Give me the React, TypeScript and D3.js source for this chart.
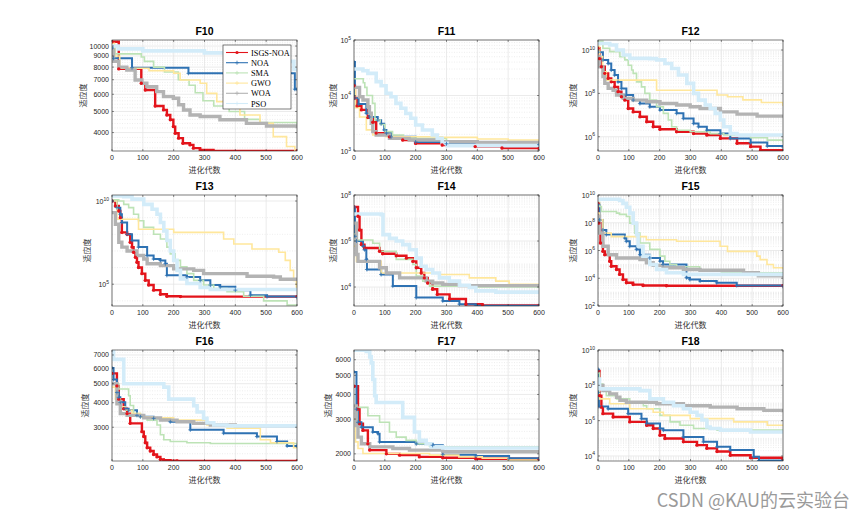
import React from 'react';
import * as d3 from 'd3';

type P = [number, number];

// ---------- labels ----------
const TITLES = ['F10', 'F11', 'F12', 'F13', 'F14', 'F15', 'F16', 'F17', 'F18'];
const SERIES_NAMES = ['ISGS-NOA', 'NOA', 'SMA', 'GWO', 'WOA', 'PSO'];
const X_LABEL = '进化代数';
const Y_LABEL = '适应度';
const X_TICKS = [0, 100, 200, 300, 400, 500, 600];
const WATERMARK = 'CSDN @KAU的云实验台';

const Y_DOMAINS: [number, number][] = [
  [3290, 10660], [1e3, 1e5], [2.2e5, 2.9e10],
  [4.9e3, 2.3e10], [1.5e3, 1e8], [1e2, 1e10],
  [2020, 7420], [1840, 6720], [5.2e3, 1e10],
];
const Y_TICKS: number[][] = [
  [4000, 5000, 6000, 7000, 8000, 9000, 10000],
  [1e3, 1e4, 1e5],
  [1e6, 1e8, 1e10],
  [1e5, 1e10],
  [1e4, 1e6, 1e8],
  [1e2, 1e4, 1e6, 1e8, 1e10],
  [3000, 4000, 5000, 6000, 7000],
  [2000, 3000, 4000, 5000, 6000],
  [1e4, 1e6, 1e8, 1e10],
];
const Y_POWER = [false, true, true, true, true, true, false, false, true];

// ---------- F10 ----------
const F10_ISGS: P[] = [[0,10470],[22,7850],[95,6740],[108,6280],[140,5300],[167,5085],[178,4820],[189,4580],[199,4260],[205,3970],[216,3770],[230,3570],[253,3510],[264,3390],[286,3330],[329,3290],[600,3290]];
const F10_NOA: P[] = [[0,9800],[5,8780],[65,7950],[248,7490],[593,6330],[600,6330]];
const F10_SMA: P[] = [[0,10000],[10,9200],[95,8900],[105,8500],[135,8000],[170,7600],[215,7000],[250,6600],[270,6100],[295,5600],[330,5300],[380,5000],[430,4600],[480,4450],[600,4340]];
const F10_GWO: P[] = [[0,10300],[8,9000],[25,7900],[120,7700],[200,7500],[221,6980],[286,6740],[307,6060],[340,5550],[372,5170],[415,4820],[480,4410],[523,3830],[566,3450],[593,3300],[600,3290]];
const F10_WOA: P[] = [[0,9600],[5,8500],[22,8000],[48,7760],[75,6980],[97,6740],[113,6500],[145,6170],[167,5850],[199,5750],[216,5370],[232,5080],[253,4820],[286,4740],[350,4580],[436,4410],[501,4290],[600,4190]];
const F10_PSO: P[] = [[0,10000],[20,9700],[100,9500],[300,9300],[400,9000],[500,8500],[590,7800],[600,7800]];

// ---------- F11 ----------
const F11_ISGS: P[] = [[0,15000],[3,9000],[10,6500],[24,5500],[45,4000],[61,3300],[72,2100],[115,1800],[158,1580],[200,1370],[286,1280],[393,1200],[480,1130],[600,1110]];
const F11_NOA: P[] = [[0,40000],[3,9000],[15,7000],[40,4800],[50,4100],[77,3600],[88,3100],[98,2400],[105,2100],[120,1800],[200,1450],[300,1350],[600,1300]];
const F11_SMA: P[] = [[0,20000],[30,17000],[35,14000],[42,10000],[60,7200],[68,3600],[85,3000],[100,2230],[125,1940],[160,1800],[180,1690],[300,1450],[600,1380]];
const F11_GWO: P[] = [[0,14000],[5,6000],[18,4100],[40,2400],[61,1940],[104,1810],[286,1760],[400,1650],[500,1580],[600,1520]];
const F11_WOA: P[] = [[0,14000],[18,9500],[29,8300],[45,6300],[50,4800],[56,3150],[61,2230],[72,1940],[115,1690],[179,1580],[286,1470],[400,1430],[600,1400]];
const F11_PSO: P[] = [[0,30000],[29,28000],[45,25000],[72,17800],[88,15000],[104,11000],[120,9500],[136,7200],[152,5900],[168,4750],[184,3880],[200,2940],[222,2390],[254,1940],[270,1700],[286,1370],[302,1250],[600,1240]];

// ---------- F12 ----------
const F12_ISGS: P[] = [[0,1.2e10],[5,4e9],[11,1.7e9],[22,8.4e8],[33,4.9e8],[43,3.4e8],[54,2e8],[65,1.2e8],[76,7e7],[87,4.9e7],[98,2e7],[114,1.4e7],[136,8.4e6],[158,4.9e6],[179,2.9e6],[201,2.2e6],[255,1.7e6],[310,1.4e6],[353,1.2e6],[397,8.4e5],[451,5e5],[495,3.5e5],[527,2.4e5],[600,2.3e5]];
const F12_NOA: P[] = [[0,8e9],[16,3.5e9],[33,2.4e9],[43,1.2e9],[54,7e8],[65,3.4e8],[76,1.7e8],[92,8.4e7],[114,4.9e7],[136,3.4e7],[168,2.4e7],[201,1.7e7],[255,1.2e7],[277,7e6],[310,4.1e6],[326,2.9e6],[353,2e6],[397,1.4e6],[429,8.4e5],[495,5.4e5],[549,3.7e5],[600,3.4e5]];
const F12_SMA: P[] = [[0,2.5e10],[16,1.2e10],[38,8.4e9],[71,4.9e9],[87,3.5e9],[98,2e9],[109,1.2e9],[114,8.4e8],[125,3.4e8],[141,2e8],[152,1e8],[168,4.9e7],[190,2.4e7],[212,1.2e7],[228,5.9e6],[239,2.9e6],[255,2e6],[299,1.7e6],[364,1.4e6],[408,1.2e6],[495,9e5],[549,7e5],[600,5.4e5]];
const F12_GWO: P[] = [[0,1.5e10],[5,5e9],[15,1e9],[27,4.1e8],[190,1.4e8],[386,8.4e7],[420,7e7],[470,5e7],[530,3.8e7],[600,2.6e7]];
const F12_WOA: P[] = [[0,5e9],[5,1.7e9],[16,5.9e8],[22,2.9e8],[33,1.7e8],[49,1.4e8],[60,8.4e7],[82,5.9e7],[114,4.9e7],[158,4.1e7],[201,3.4e7],[255,2.9e7],[299,2.4e7],[331,2e7],[397,1.4e7],[451,1.1e7],[516,8.9e6],[600,8.4e6]];
const F12_PSO: P[] = [[0,2e10],[38,1.7e10],[60,1e10],[82,5.9e9],[103,4.1e9],[168,4e9],[190,3.5e9],[217,2.4e9],[239,1.4e9],[261,7e8],[288,2.9e8],[310,1e8],[326,4.9e7],[348,2.9e7],[364,2e7],[380,1.2e7],[397,5.9e6],[408,2.9e6],[429,1.4e6],[451,1.2e6],[600,1.2e6]];

// ---------- F13 ----------
const F13_ISGS: P[] = [[0,1e10],[11,5e9],[22,2.5e9],[27,1e9],[32,1.3e8],[49,1e8],[59,3.3e7],[65,1.7e7],[70,8.4e6],[76,4.2e6],[81,2.1e6],[86,1e6],[97,4.3e5],[108,1.7e5],[119,8.9e4],[135,4.4e4],[157,2.5e4],[178,1.9e4],[222,1.8e4],[600,1.8e4]];
const F13_NOA: P[] = [[0,1e10],[16,4e9],[27,1.6e9],[32,5.1e8],[49,1e8],[65,4.2e7],[86,1.7e7],[114,5.3e6],[135,3.3e6],[157,2.7e6],[173,1.7e6],[178,3.4e5],[243,2.7e5],[286,1.7e5],[319,8.9e4],[351,7e4],[400,4.4e4],[449,2.2e4],[503,1.8e4],[600,1.6e4]];
const F13_SMA: P[] = [[0,1.2e10],[22,1e10],[38,6.3e9],[54,4e9],[70,1.6e9],[86,6.5e8],[103,2.6e8],[135,1e8],[157,5.2e7],[178,1.7e7],[189,6.7e6],[205,2.7e6],[222,1.1e6],[243,4.3e5],[265,1.7e5],[297,8.9e4],[330,5.5e4],[373,3.5e4],[427,1.9e4],[492,1e4],[568,5.6e3],[600,5e3]];
const F13_GWO: P[] = [[0,1e10],[16,8e8],[86,2e8],[200,1.3e8],[362,5.2e7],[395,2.6e7],[454,1.3e7],[541,8.4e6],[562,2.7e6],[578,6.8e5],[589,1.7e5],[598,4.4e4],[600,4.4e4]];
const F13_WOA: P[] = [[0,2e9],[11,4e8],[22,3.3e7],[32,1.7e7],[49,1e7],[81,5.3e6],[103,3.3e6],[114,1.7e6],[157,1.3e6],[200,8.4e5],[265,6.8e5],[297,4.3e5],[438,3e5],[524,2.7e5],[546,2e5],[600,1.8e5]];
const F13_PSO: P[] = [[0,2e10],[38,1.8e10],[65,1.3e10],[103,6.3e9],[130,3.2e9],[146,1.6e9],[157,5.1e8],[168,1.6e8],[178,4.2e7],[189,1e7],[200,2.7e6],[211,6.8e5],[222,2.1e5],[243,1.1e5],[286,6.4e4],[319,4.8e4],[600,4.8e4]];

// ---------- F14 ----------
const F14_ISGS: P[] = [[0,3e7],[13,1.2e7],[18,3e6],[24,7e5],[34,5e5],[83,3.6e5],[93,2.8e5],[137,2.3e5],[170,1.8e5],[191,1.3e5],[202,6.9e4],[218,4.1e4],[228,2.5e4],[239,1.5e4],[255,8e3],[270,4.8e3],[310,3e3],[363,1.8e3],[417,1.6e3],[600,1.6e3]];
const F14_NOA: P[] = [[0,3e7],[3,1.6e6],[8,1e6],[29,6e5],[34,4.2e5],[40,1.6e5],[42,5.8e4],[88,3.5e4],[126,1.1e4],[202,3.5e3],[288,2.5e3],[342,1.8e3],[395,1.55e3],[600,1.55e3]];
const F14_SMA: P[] = [[0,2e6],[5,1.1e6],[61,8e5],[83,3.6e5],[137,1.6e5],[191,9.6e4],[202,3e4],[223,1.8e4],[245,1.1e4],[400,1e4],[600,9.5e3]];
const F14_GWO: P[] = [[0,6e5],[8,1.3e5],[88,4.1e4],[277,3.5e4],[374,2.5e4],[460,1.8e4],[503,1.3e4],[600,1.3e4]];
const F14_WOA: P[] = [[0,6e6],[8,2.6e5],[13,1.3e5],[83,6.9e4],[105,4.1e4],[148,2.5e4],[234,1.8e4],[255,1.5e4],[288,1.3e4],[342,1.15e4],[600,1.1e4]];
const F14_PSO: P[] = [[0,1.5e7],[88,1.4e7],[94,1.9e6],[115,1.3e6],[137,1e6],[158,7e5],[180,4.2e5],[202,1.8e5],[218,8e4],[234,5.8e4],[255,4.1e4],[277,2.5e4],[309,1.8e4],[342,1.2e4],[374,9.6e3],[395,6.8e3],[460,6e3],[600,5.8e3]];

// ---------- F15 ----------
const F15_ISGS: P[] = [[0,2.5e9],[3,9.4e7],[8,3.5e6],[16,8.7e5],[22,5e5],[38,1.7e5],[43,7.4e4],[60,4.3e4],[70,1.9e4],[81,8e3],[92,4.7e3],[114,3.5e3],[146,3e3],[222,2.9e3],[600,2.9e3]];
const F15_NOA: P[] = [[0,2e9],[5,1.6e8],[16,3e7],[27,1.4e7],[87,7.9e6],[92,4.6e6],[103,2e6],[125,1.2e6],[136,5e5],[168,2.9e5],[201,1.7e5],[211,9.9e4],[287,1.1e4],[298,8e3],[331,6.3e3],[385,4.7e3],[450,3e3],[600,2.6e3]];
const F15_SMA: P[] = [[0,3e9],[5,1.5e9],[11,6.4e8],[60,4.9e8],[70,4e8],[92,2.8e8],[103,9.4e7],[119,1.8e7],[136,3.5e6],[168,1.2e6],[201,3.9e5],[217,1.7e5],[233,9.9e4],[255,6.8e4],[330,4e4],[400,2.5e4],[600,1.5e4]];
const F15_GWO: P[] = [[0,5e8],[5,1.6e8],[16,1.8e7],[43,1e7],[157,6e6],[255,4.6e6],[396,2e6],[420,8.7e5],[515,3.9e5],[526,2.2e5],[548,9.9e4],[569,5.7e4],[600,4.5e4]];
const F15_WOA: P[] = [[0,3e8],[5,1.8e7],[16,2e6],[33,5e5],[60,2.9e5],[136,2.2e5],[157,1.3e5],[179,8.5e4],[211,5.7e4],[277,4.3e4],[331,3.8e4],[472,2.5e4],[520,1.5e4],[600,1.4e4]];
const F15_PSO: P[] = [[0,5e9],[70,4e9],[81,2.5e9],[92,1.3e9],[103,4.9e8],[114,9.4e7],[125,1.4e7],[130,2e6],[146,3.9e5],[168,9.9e4],[190,4.3e4],[222,2.5e4],[277,1.9e4],[600,1.7e4]];

// ---------- F16 ----------
const F16_ISGS: P[] = [[0,5640],[16,4870],[22,4170],[38,3730],[49,3520],[59,3140],[97,2850],[103,2690],[108,2500],[114,2360],[124,2270],[135,2180],[146,2120],[157,2060],[168,2040],[189,2030],[211,2020],[600,2020]];
const F16_NOA: P[] = [[0,6000],[5,5250],[16,4510],[22,4260],[27,4020],[43,3730],[54,3660],[81,3450],[92,3390],[135,3330],[189,3200],[254,2910],[362,2800],[470,2690],[535,2540],[568,2410],[600,2410]];
const F16_SMA: P[] = [[0,5000],[22,4700],[54,4340],[59,3870],[70,3520],[92,3390],[114,3260],[146,3080],[157,2750],[168,2590],[189,2540],[243,2500],[319,2480],[600,2470]];
const F16_GWO: P[] = [[0,4800],[11,4170],[27,3810],[43,3660],[65,3520],[92,3390],[135,3350],[200,3260],[308,3080],[373,2970],[481,2590],[514,2500],[589,2360],[600,2350]];
const F16_WOA: P[] = [[0,5000],[16,3950],[27,3520],[49,3450],[103,3350],[157,3260],[211,3200],[265,3140],[319,3080],[400,3050],[600,3030]];
const F16_PSO: P[] = [[0,7400],[5,6650],[38,5000],[168,4800],[184,4170],[265,3860],[276,3590],[297,3330],[308,3160],[330,3080],[373,3050],[600,3040]];

// ---------- F17 ----------
const F17_ISGS: P[] = [[0,4400],[13,3370],[18,2840],[29,2630],[45,2250],[51,2090],[105,2000],[148,1970],[212,1930],[288,1910],[395,1890],[600,1880]];
const F17_NOA: P[] = [[0,5200],[8,3370],[13,2890],[24,2730],[61,2580],[78,2530],[83,2300],[202,2250],[255,2210],[288,1980],[395,1950],[503,1900],[600,1890]];
const F17_SMA: P[] = [[0,3500],[8,3440],[45,3120],[83,2890],[115,2580],[137,2430],[169,2340],[202,2250],[245,2190],[288,2170],[600,2170]];
const F17_GWO: P[] = [[0,3000],[5,2300],[13,2130],[29,2010],[245,1970],[340,1930],[416,1900],[500,1860],[600,1850]];
const F17_WOA: P[] = [[0,3500],[8,2780],[13,2430],[24,2250],[51,2170],[126,2130],[180,2090],[288,2050],[600,2020]];
const F17_PSO: P[] = [[0,6700],[40,6600],[51,6200],[56,5780],[61,4760],[67,3940],[72,3640],[158,3060],[196,2580],[212,2340],[234,2250],[250,2170],[288,2140],[600,2140]];

// ---------- F18 ----------
const F18_ISGS: P[] = [[0,6.6e8],[5,2.6e7],[11,5.8e6],[16,2.5e6],[49,1.6e6],[103,8.5e5],[158,5.5e5],[179,3.6e5],[201,1.5e5],[217,9.8e4],[277,6.3e4],[321,4.1e4],[353,2.7e4],[386,1.8e4],[429,1.1e4],[495,8e3],[600,6.5e3]];
const F18_NOA: P[] = [[0,8e8],[2,4e7],[3,6.3e6],[33,4.7e6],[98,2.5e6],[141,1.3e6],[158,6.8e5],[201,3.6e5],[212,2.9e5],[277,1.2e5],[342,6.3e4],[386,3.3e4],[429,2.2e4],[505,9e3],[522,5.5e3],[600,5.5e3]];
const F18_SMA: P[] = [[0,5e8],[5,1.2e8],[16,5e7],[27,2.6e7],[60,1.7e7],[103,1.1e7],[147,7e6],[158,4.7e6],[201,2e6],[234,8.5e5],[266,5.5e5],[310,3.6e5],[386,2.9e5],[600,2.5e5]];
const F18_GWO: P[] = [[0,5e7],[5,1.7e7],[38,9e6],[103,4.7e6],[179,3e6],[212,2e6],[299,1.3e6],[440,8.5e5],[549,5.5e5],[600,5e5]];
const F18_WOA: P[] = [[0,1e8],[16,5e7],[38,3.3e7],[60,2.1e7],[71,1.4e7],[92,1.1e7],[190,9e6],[277,7e6],[364,5.8e6],[451,4.7e6],[538,3.8e6],[600,3e6]];
const F18_PSO: P[] = [[0,2.3e8],[5,6.3e7],[136,5e7],[168,1.7e7],[212,1.1e7],[245,7e6],[277,4.7e6],[299,3e6],[321,2e6],[337,1.1e6],[353,4.4e5],[364,3.6e5],[397,2.9e5],[495,2.3e5],[600,1.9e5]];

const PANEL_DATA: P[][][] = [
  [F10_ISGS, F10_NOA, F10_SMA, F10_GWO, F10_WOA, F10_PSO],
  [F11_ISGS, F11_NOA, F11_SMA, F11_GWO, F11_WOA, F11_PSO],
  [F12_ISGS, F12_NOA, F12_SMA, F12_GWO, F12_WOA, F12_PSO],
  [F13_ISGS, F13_NOA, F13_SMA, F13_GWO, F13_WOA, F13_PSO],
  [F14_ISGS, F14_NOA, F14_SMA, F14_GWO, F14_WOA, F14_PSO],
  [F15_ISGS, F15_NOA, F15_SMA, F15_GWO, F15_WOA, F15_PSO],
  [F16_ISGS, F16_NOA, F16_SMA, F16_GWO, F16_WOA, F16_PSO],
  [F17_ISGS, F17_NOA, F17_SMA, F17_GWO, F17_WOA, F17_PSO],
  [F18_ISGS, F18_NOA, F18_SMA, F18_GWO, F18_WOA, F18_PSO],
];

// ---------- styles ----------
const COLORS = ['#e3141b', '#2e72b3', '#bde3b6', '#ffe79c', '#b3b3b3', '#d3ecf9'];
const WIDTHS = [2.4, 2, 1.6, 1.6, 3.4, 3.6];
const COLS = [112, 354, 598];
const ROWS = [40, 195, 350];
const PW = 185;
const PH = 111;
const TICK_FONT = 'Liberation Sans, Arial, sans-serif';
const CJK_FONT = '"Noto Sans CJK SC", sans-serif';
const AX = '#262626';

function minorValues(dom: [number, number], ticks: number[], power: boolean): number[] {
  const out: number[] = [];
  const [lo, hi] = dom;
  if (!power) {
    for (let v = Math.ceil(lo / 200) * 200; v <= hi; v += 200) {
      if (!ticks.includes(v)) out.push(v);
    }
    return out;
  }
  const step = ticks.length > 1 ? Math.round(Math.log10(ticks[1]) - Math.log10(ticks[0])) : 1;
  const dLo = Math.floor(Math.log10(lo));
  const dHi = Math.ceil(Math.log10(hi));
  for (let d = dLo; d <= dHi; d++) {
    const base = Math.pow(10, d);
    if (step <= 2) {
      for (let k = 1; k <= 9; k++) {
        const v = k * base;
        if (v > lo && v < hi && !ticks.some(t => Math.abs(t - v) / v < 1e-6)) out.push(v);
      }
    } else {
      if (base > lo && base < hi && !ticks.some(t => Math.abs(t - base) / base < 1e-6)) out.push(base);
    }
  }
  return out;
}

function Panel({ idx }: { idx: number }) {
  const left = COLS[idx % 3];
  const top = ROWS[Math.floor(idx / 3)];
  const x = d3.scaleLinear().domain([0, 600]).range([left, left + PW]);
  const y = d3.scaleLog().domain(Y_DOMAINS[idx]).range([top + PH, top]);
  const line = d3.line<P>().x(d => x(d[0])).y(d => y(d[1])).curve(d3.curveStepAfter);
  const ticks = Y_TICKS[idx];
  const power = Y_POWER[idx];
  const minors = minorValues(Y_DOMAINS[idx], ticks, power);
  const clipId = `clip-${idx}`;
  const series = PANEL_DATA[idx];
  const yLabelX = left - (power ? (idx === 1 || idx === 4 ? 21 : 25) : (idx === 6 ? 27 : idx === 7 ? 26 : 29));
  return (
    <g>
      <defs>
        <clipPath id={clipId}>
          <rect x={left} y={top} width={PW} height={PH} />
        </clipPath>
      </defs>
      <rect x={left} y={top} width={PW} height={PH} fill="#fff" />
      {minors.map((v, i) => (
        <line key={'mn' + i} x1={left} x2={left + PW} y1={y(v)} y2={y(v)} stroke="#dcdcdc" strokeWidth={0.5} strokeDasharray="1,1.5" />
      ))}
      {X_TICKS.map((t, i) => (
        <line key={'gx' + i} x1={x(t)} x2={x(t)} y1={top} y2={top + PH} stroke="#e3e3e3" strokeWidth={0.7} />
      ))}
      {ticks.map((t, i) => (
        <line key={'gy' + i} x1={left} x2={left + PW} y1={y(t)} y2={y(t)} stroke="#e3e3e3" strokeWidth={0.7} />
      ))}
      <g clipPath={`url(#${clipId})`}>
        {series.map((s, si) => (
          <path key={'s' + si} d={line(s) || ''} fill="none" stroke={COLORS[si]} strokeWidth={WIDTHS[si]} strokeLinejoin="miter" />
        ))}
        {series[0].map((p, pi) => (
          <circle key={'rm' + pi} cx={x(p[0])} cy={y(p[1])} r={1.7} fill={COLORS[0]} />
        ))}
        {series[1].map((p, pi) => (
          <path key={'bm' + pi} d={`M${x(p[0]) - 2},${y(p[1])}h4M${x(p[0])},${y(p[1]) - 2}v4`} stroke={COLORS[1]} strokeWidth={0.8} />
        ))}
      </g>
      <rect x={left} y={top} width={PW} height={PH} fill="none" stroke={AX} strokeWidth={0.6} />
      {X_TICKS.map((t, i) => (
        <g key={'xt' + i}>
          <line x1={x(t)} x2={x(t)} y1={top + PH} y2={top + PH - 2} stroke={AX} strokeWidth={0.5} />
          <line x1={x(t)} x2={x(t)} y1={top} y2={top + 2} stroke={AX} strokeWidth={0.5} />
          <text x={x(t)} y={top + PH + 9} fontSize={7} fontFamily={TICK_FONT} fill={AX} textAnchor="middle">{t}</text>
        </g>
      ))}
      {ticks.map((t, i) => (
        <g key={'yt' + i}>
          <line x1={left} x2={left + 2} y1={y(t)} y2={y(t)} stroke={AX} strokeWidth={0.5} />
          <line x1={left + PW} x2={left + PW - 2} y1={y(t)} y2={y(t)} stroke={AX} strokeWidth={0.5} />
          {power ? (
            <text x={left - 3} y={y(t) + 3} fontSize={7} fontFamily={TICK_FONT} fill={AX} textAnchor="end">
              10<tspan dy={-3.5} fontSize={5}>{Math.round(Math.log10(t))}</tspan>
            </text>
          ) : (
            <text x={left - 3} y={y(t) + 2.5} fontSize={7} fontFamily={TICK_FONT} fill={AX} textAnchor="end">{t}</text>
          )}
        </g>
      ))}
      <text x={left + PW / 2} y={top - 5} fontSize={10.5} fontWeight="bold" fontFamily={TICK_FONT} fill="#000" textAnchor="middle">{TITLES[idx]}</text>
      <text x={left + PW / 2} y={top + PH + 22} fontSize={8} fontFamily={CJK_FONT} fill="#333" textAnchor="middle">{X_LABEL}</text>
      <text transform={`translate(${yLabelX},${top + PH / 2}) rotate(-90)`} fontSize={8} fontFamily={CJK_FONT} fill="#333" textAnchor="middle" dy={3}>{Y_LABEL}</text>
    </g>
  );
}

function Legend() {
  const lx = 223;
  const ly = 45;
  const w = 68;
  const h = 64;
  return (
    <g>
      <rect x={lx} y={ly} width={w} height={h} fill="#fff" stroke={AX} strokeWidth={0.6} />
      {SERIES_NAMES.map((n, i) => {
        const yy = ly + 7.5 + i * 10.2;
        return (
          <g key={n}>
            <line x1={lx + 3} x2={lx + 25} y1={yy} y2={yy} stroke={COLORS[i]} strokeWidth={1.1} />
            {i === 0 ? <circle cx={lx + 14} cy={yy} r={1.6} fill={COLORS[0]} /> : (
              <path d={`M${lx + 12},${yy}h4M${lx + 14},${yy - 2}v4`} stroke={COLORS[i]} strokeWidth={0.8} />
            )}
            <text x={lx + 28} y={yy + 3} fontSize={8.3} fontFamily='"Liberation Serif", "Times New Roman", serif' fill="#000">{n}</text>
          </g>
        );
      })}
    </g>
  );
}

export default function App() {
  return (
    <svg width={865} height={520} style={{ position: 'absolute', left: 0, top: 0, background: '#fff' }}>
      <rect x={0} y={0} width={865} height={520} fill="#fff" />
      {TITLES.map((_, i) => <Panel key={i} idx={i} />)}
      <Legend />
      <text x={850} y={507} fontSize={18} fontFamily='"Noto Sans CJK SC", "Noto Sans", sans-serif' fill="#9a9a9a" textAnchor="end">{WATERMARK}</text>
    </svg>
  );
}
